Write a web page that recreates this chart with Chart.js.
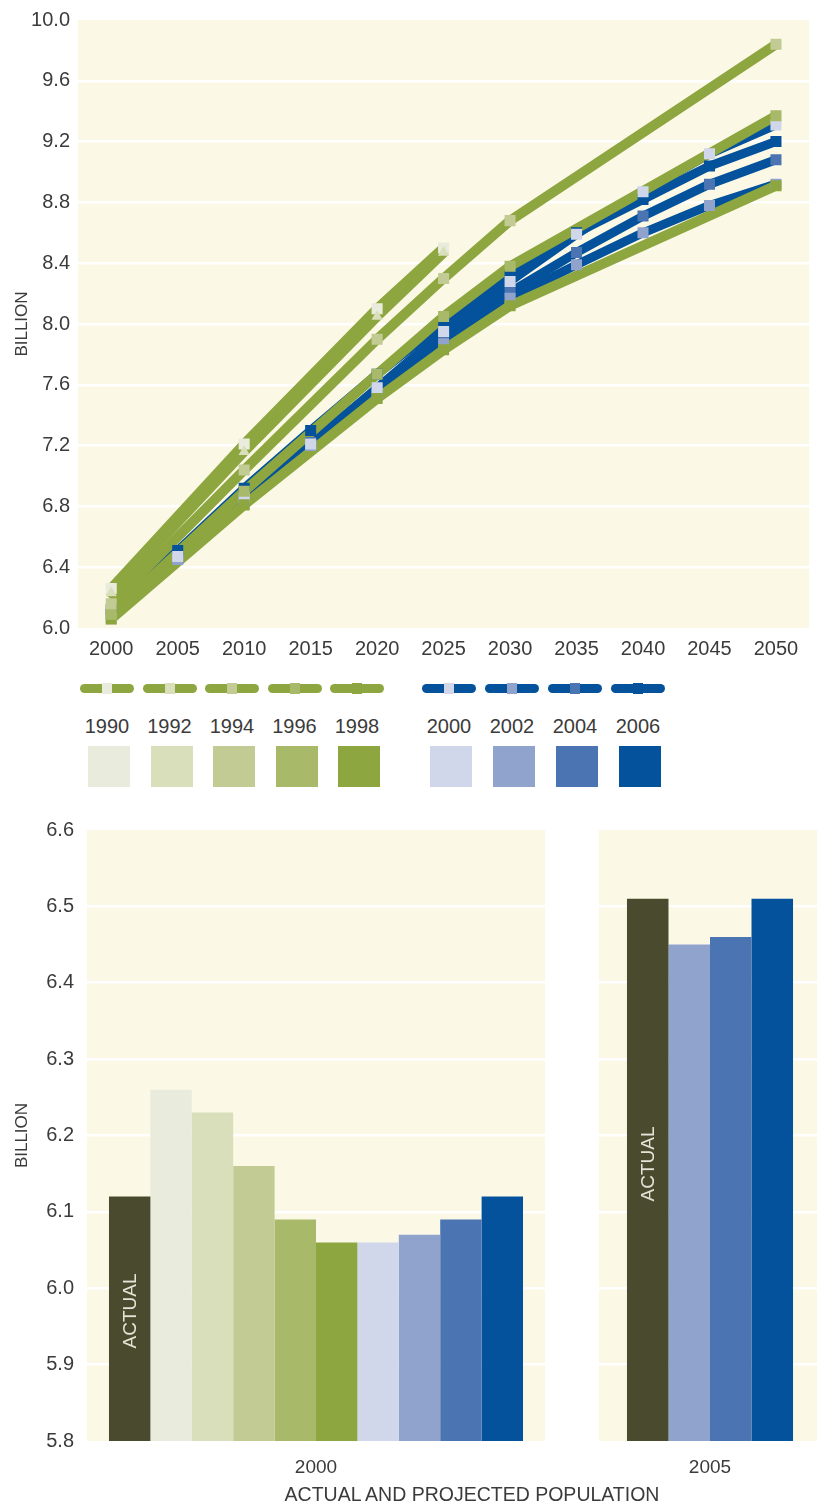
<!DOCTYPE html>
<html>
<head>
<meta charset="utf-8">
<script src="https://cdn.jsdelivr.net/npm/chart.js@4.4.1/dist/chart.umd.min.js"></script>
<style>
  html, body { margin: 0; padding: 0; background: #fff; overflow: hidden; }
  #page { position: relative; width: 817px; height: 1505px; font-family: "Liberation Sans", Arial, sans-serif; color: #3b3b3b; }
  .abs { position: absolute; }
  .lg-line { position: absolute; height: 9px; border-radius: 5px; }
  .lg-mark { position: absolute; width: 10px; height: 11px; top: -1px; }
  .lg-label { position: absolute; width: 60px; text-align: center; font-size: 20px; line-height: 20px; }
  .lg-box { position: absolute; width: 42px; height: 41px; }
  .bar-tag { position: absolute; width: 120px; height: 22px; line-height: 22px; text-align: center;
             font-size: 19px; color: #E4E4D6; transform: rotate(-90deg); transform-origin: 50% 50%; }
  #xtitle { position: absolute; left: 222px; width: 500px; text-align: center; top: 1483px; font-size: 19.5px; line-height: 22px; }
</style>
</head>
<body>
<div id="page">
  <canvas id="lines" class="abs" style="left:0;top:0;width:817px;height:670px" width="817" height="670"></canvas>
  <div id="legend"></div>
  <canvas id="bars2000" class="abs" style="left:0;top:800px;width:560px;height:690px" width="560" height="690"></canvas>
  <canvas id="bars2005" class="abs" style="left:590px;top:800px;width:231px;height:690px" width="231" height="690"></canvas>
  <div id="xtitle">ACTUAL AND PROJECTED POPULATION</div>
</div>
<script>
'use strict';

// ─── Data ───────────────────────────────────────────────────────────────────
const years = ['2000', '2005', '2010', '2015', '2020', '2025', '2030', '2035', '2040', '2045', '2050'];
const revisions = ['1990', '1992', '1994', '1996', '1998', '2000', '2002', '2004', '2006'];

// projections by UN revision (billion), null = no point published
const rev1990 = [6.26, null, 7.21, null, 8.10, 8.50, null, null, null, null, null];
const rev1992 = [6.23, null, 7.16, null, 8.05, 8.47, null, null, null, null, null];
const rev1994 = [6.16, null, 7.04, null, 7.90, 8.30, 8.68, null, null, null, 9.84];
const rev1996 = [6.09, null, 6.90, null, 7.67, 8.05, 8.38, null, null, null, 9.37];
const rev1998 = [6.06, null, 6.81, null, 7.51, 7.83, 8.12, null, null, null, 8.91];
const rev2000 = [6.06, 6.47, 6.86, 7.21, 7.58, 7.95, 8.28, 8.59, 8.87, 9.12, 9.31];
const rev2002 = [6.07, 6.45, 6.84, 7.20, 7.54, 7.87, 8.17, 8.39, 8.60, 8.78, 8.92];
const rev2004 = [6.09, 6.46, 6.84, 7.22, 7.57, 7.91, 8.21, 8.47, 8.71, 8.92, 9.08];
const rev2006 = [6.12, 6.51, 6.92, 7.30, 7.67, 8.01, 8.32, 8.60, 8.82, 9.04, 9.20];

// actual vs projected, for 2000 and 2005
const barNames2000 = ['ACTUAL', '1990', '1992', '1994', '1996', '1998', '2000', '2002', '2004', '2006'];
const barValues2000 = [6.12, 6.26, 6.23, 6.16, 6.09, 6.06, 6.06, 6.07, 6.09, 6.12];
const barNames2005 = ['ACTUAL', '2002', '2004', '2006'];
const barValues2005 = [6.51, 6.45, 6.46, 6.51];

// ─── Colours ────────────────────────────────────────────────────────────────
const shade = {
  '1990': '#E9ECDC', '1992': '#D8DFBA', '1994': '#C3CB95', '1996': '#A9B96A', '1998': '#8DA63F',
  '2000': '#D0D7EA', '2002': '#8FA3CD', '2004': '#4B74B2', '2006': '#03529B',
  'ACTUAL': '#4A4A2F',
};
const GREEN = '#8DA63F';
const BLUE = '#03529B';
const CREAM = '#FBF8E6';
const TEXT = '#3b3b3b';
const FONT = '"Liberation Sans", Arial, sans-serif';

const series = {
  '1990': rev1990, '1992': rev1992, '1994': rev1994, '1996': rev1996, '1998': rev1998,
  '2000': rev2000, '2002': rev2002, '2004': rev2004, '2006': rev2006,
};
const isGreen = r => Number(r) < 2000;

// ─── Shared bits ────────────────────────────────────────────────────────────
const plotBg = {
  id: 'plotBg',
  beforeDraw(chart) {
    const a = chart.chartArea, ctx = chart.ctx;
    ctx.save();
    ctx.fillStyle = CREAM;
    ctx.fillRect(a.left, a.top, a.right - a.left, a.bottom - a.top);
    ctx.restore();
  }
};

function innerGrid(min, max) {
  return ctx => {
    const v = ctx.tick ? ctx.tick.value : null;
    if (v === null || Math.abs(v - min) < 1e-6 || Math.abs(v - max) < 1e-6) return 'rgba(0,0,0,0)';
    return '#ffffff';
  };
}

// ─── Line chart ─────────────────────────────────────────────────────────────
function renderLines() {
  const markerOrder = ['1992', '1990', '1994', '1996', '1998', '2000', '2002', '2004', '2006'];
  const markers = markerOrder.map(r => ({
    label: r + ' marker',
    data: series[r],
    showLine: false,
    pointStyle: r === '1992' ? 'triangle' : 'rect',
    pointRadius: r === '1992' ? 6.5 : 7.8,
    pointBorderWidth: 0,
    pointBackgroundColor: shade[r],
    spanGaps: true,
  }));
  const lineOrder = ['1990', '1992', '1994', '1996', '1998', '2000', '2002', '2004', '2006'];
  const lines = lineOrder.map(r => ({
    label: r,
    data: series[r],
    borderColor: isGreen(r) ? GREEN : BLUE,
    borderWidth: isGreen(r) ? 10 : 9,
    borderCapStyle: 'round',
    borderJoinStyle: 'round',
    pointRadius: 0,
    tension: 0,
    spanGaps: true,
    fill: false,
  }));

  new Chart(document.getElementById('lines'), {
    type: 'line',
    data: { labels: years, datasets: markers.concat(lines) },
    options: {
      responsive: false,
      animation: false,
      layout: { padding: { top: 16, right: 4, left: 0, bottom: 0 } },
      plugins: { legend: { display: false }, tooltip: { enabled: false } },
      scales: {
        x: {
          type: 'category',
          offset: true,
          grid: { display: false },
          border: { display: false },
          ticks: { color: TEXT, font: { family: FONT, size: 20 }, padding: 1, maxRotation: 0 },
          afterFit: s => { s.height = 42; },
        },
        y: {
          min: 6, max: 10,
          grid: { color: innerGrid(6, 10), lineWidth: 2.5, drawTicks: false },
          border: { display: false },
          ticks: { stepSize: 0.4, color: TEXT, font: { family: FONT, size: 20 }, padding: 8,
                   callback: v => Number(v).toFixed(1) },
          title: { display: true, text: 'BILLION', color: TEXT, font: { family: FONT, size: 17 },
                   padding: { top: 12, bottom: 0 } },
          afterFit: s => { s.width = 78; },
        }
      }
    },
    plugins: [plotBg]
  });
}

// ─── Legend ─────────────────────────────────────────────────────────────────
function renderLegend() {
  const box = document.getElementById('legend');
  revisions.forEach(r => {
    const g = isGreen(r);
    const i = g ? revisions.indexOf(r) : revisions.indexOf(r) - 5;
    const cx = g ? 107 + i * 62.5 : 449 + i * 63;

    const line = document.createElement('div');
    line.className = 'lg-line';
    line.style.cssText = `left:${cx - 27}px;top:684px;width:54px;background:${g ? GREEN : BLUE};`;
    const mark = document.createElement('div');
    mark.className = 'lg-mark';
    mark.style.cssText = `left:22px;background:${shade[r]};`;
    line.appendChild(mark);

    const label = document.createElement('div');
    label.className = 'lg-label';
    label.style.cssText = `left:${cx - 30}px;top:716px;`;
    label.textContent = r;

    const sq = document.createElement('div');
    sq.className = 'lg-box';
    sq.style.cssText = `left:${cx - 19}px;top:746px;background:${shade[r]};`;

    box.append(line, label, sq);
  });
}

// ─── Bar charts ─────────────────────────────────────────────────────────────
function renderBars(id, year, names, values, opt) {
  const canvas = document.getElementById(id);
  const chart = new Chart(canvas, {
    type: 'bar',
    data: {
      labels: [year],
      datasets: names.map((n, i) => ({
        label: n,
        data: [values[i]],
        backgroundColor: shade[n],
        borderWidth: 0,
        categoryPercentage: opt.catPct,
        barPercentage: 1,
      }))
    },
    options: {
      responsive: false,
      animation: false,
      layout: { padding: { top: 30, right: opt.padRight, left: 0, bottom: 0 } },
      plugins: { legend: { display: false }, tooltip: { enabled: false } },
      scales: {
        x: {
          grid: { display: false },
          border: { display: false },
          ticks: { color: TEXT, font: { family: FONT, size: 19 }, padding: 7 },
          afterFit: s => { s.height = 49; },
        },
        y: {
          min: 5.8, max: 6.6,
          grid: { color: innerGrid(5.8, 6.6), lineWidth: 2.5, drawTicks: false },
          border: { display: false },
          ticks: { display: opt.showTicks, stepSize: 0.1, color: TEXT, font: { family: FONT, size: 20 },
                   padding: 13, callback: v => Number(v).toFixed(1) },
          title: { display: opt.showTicks, text: 'BILLION', color: TEXT, font: { family: FONT, size: 17 },
                   padding: { top: 12, bottom: 0 } },
          afterFit: s => { s.width = opt.axisWidth; },
        }
      }
    },
    plugins: [plotBg]
  });

  // rotated "ACTUAL" tag inside the first bar, placed from the bar element
  const el = chart.getDatasetMeta(0).data[0];
  const yScale = chart.scales.y;
  const top = yScale.getPixelForValue(values[0]);
  const base = yScale.getPixelForValue(yScale.min);
  const cy = base - opt.frac * (base - top);
  const tag = document.createElement('div');
  tag.className = 'bar-tag';
  tag.textContent = 'ACTUAL';
  tag.style.left = (canvas.offsetLeft + el.x - 60) + 'px';
  tag.style.top = (canvas.offsetTop + cy - 11) + 'px';
  document.getElementById('page').appendChild(tag);
}

renderLines();
renderLegend();
renderBars('bars2000', '2000', barNames2000, barValues2000,
  { catPct: 0.904, padRight: 15, axisWidth: 87, showTicks: true, frac: 0.53 });
renderBars('bars2005', '2005', barNames2005, barValues2005,
  { catPct: 0.748, padRight: 0, axisWidth: 9, showTicks: false, frac: 0.51 });
</script>
</body>
</html>
